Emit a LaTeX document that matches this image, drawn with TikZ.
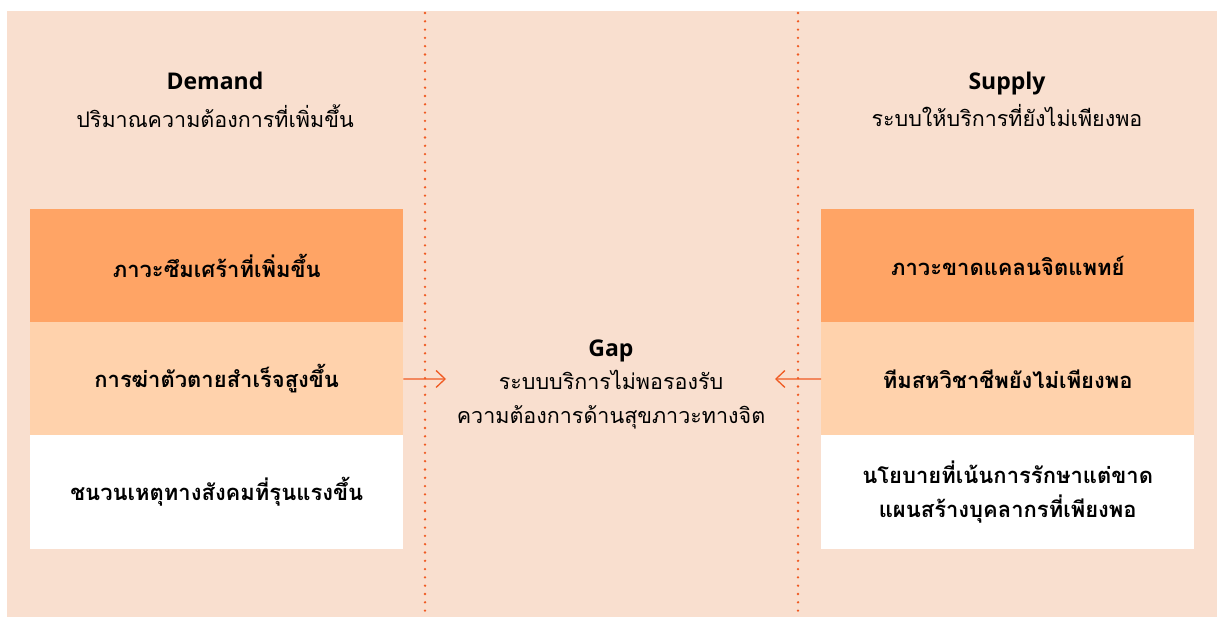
\documentclass[tikz,border=0pt]{standalone}
\usepackage{fontspec}
\setmainfont{Open Sans}
\newfontfamily\thaifont[Script=Thai]{Loma}
\definecolor{bgpeach}{HTML}{F9DFCF}
\definecolor{boxdark}{HTML}{FFA465}
\definecolor{boxlight}{HTML}{FFD2AC}
\definecolor{lineorange}{HTML}{F05A22}
\tikzset{
  title/.style={font=\bfseries\fontsize{23}{26}\selectfont, text=black, anchor=base},
  sub/.style={font=\thaifont\fontsize{21.5}{34}\selectfont, text=black, align=center},
  cell/.style={minimum width=373pt, minimum height=113.5pt, inner sep=0pt, font=\thaifont\bfseries\fontsize{22}{34}\selectfont, align=center, anchor=north west},
  divider/.style={lineorange, line width=2.6pt, dash pattern=on 0pt off 8.3pt, line cap=round},
  conn/.style={lineorange, line width=1.3pt, -{Straight Barb[length=9pt,width=17pt]}}
}
\usetikzlibrary{arrows.meta}
\begin{document}
\begin{tikzpicture}[x=1pt,y=-1pt]
\useasboundingbox (0,0) rectangle (1221,617);
\fill[bgpeach] (7,11) rectangle (1217,617);
\coordinate (d1t) at (425,13);
\coordinate (d1b) at (425,617);
\coordinate (d2t) at (798,13);
\coordinate (d2b) at (798,617);
\draw[divider] (d1t) -- (d1b);
\draw[divider] (d2t) -- (d2b);
% left column
\node[title] (demand) at (215,90) {Demand};
\node[sub] (demandsub) at (215,116) {ปริมาณความต้องการที่เพิ่มขึ้น};
\node[cell, fill=boxdark] (l1) at (30,209) {ภาวะซึมเศร้าที่เพิ่มขึ้น};
\node[cell, fill=boxlight] (l2) at (30,322) {การฆ่าตัวตายสำเร็จสูงขึ้น};
\node[cell, fill=white] (l3) at (30,435) {ชนวนเหตุทางสังคมที่รุนแรงขึ้น};
% right column
\node[title] (supply) at (1007,90) {Supply};
\node[sub] (supplysub) at (1007,116) {ระบบให้บริการที่ยังไม่เพียงพอ};
\node[cell, fill=boxdark] (r1) at (821,209) {ภาวะขาดแคลนจิตแพทย์};
\node[cell, fill=boxlight] (r2) at (821,322) {ทีมสหวิชาชีพยังไม่เพียงพอ};
\node[cell, fill=white] (r3) at (821,435) {นโยบายที่เน้นการรักษาแต่ขาด\\แผนสร้างบุคลากรที่เพียงพอ};
% gap
\node[title] (gap) at (611,357) {Gap};
\node[sub] (gapsub) at (611,400) {ระบบบริการไม่พอรองรับ\\ความต้องการด้านสุขภาวะทางจิต};
\coordinate (la) at (446,379);
\coordinate (ra) at (775,379);
\draw[conn] (l2.east) -- (la);
\draw[conn] (r2.west) -- (ra);
\end{tikzpicture}
\end{document}
